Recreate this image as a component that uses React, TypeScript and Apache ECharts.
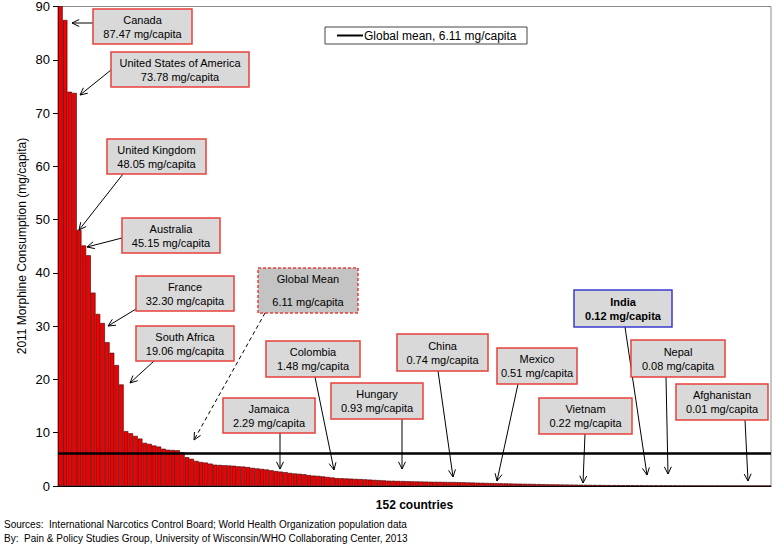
import React, { useEffect, useRef } from "react";
import * as echarts from "echarts";

// ---- Data ----
const COUNTRY_COUNT = 152;
const consumption: number[] = [
  134, 87.47, 74.0, 73.78, 48.05, 45.15, 43.3, 36.3, 32.3, 30.6,
  27.0, 25.0, 22.7, 19.06, 10.3, 9.9, 9.4, 8.9, 8.1, 7.9,
  7.6, 7.4, 7.0, 6.8, 6.75, 6.7, 6.3, 5.4, 5.1, 4.7,
  4.5, 4.4, 4.2, 4.0, 3.95, 3.9, 3.85, 3.8, 3.7, 3.65,
  3.55, 3.4, 3.3, 3.2, 3.1, 2.95, 2.8, 2.7, 2.6, 2.45,
  2.35, 2.29, 2.2, 2.05, 1.95, 1.9, 1.8, 1.7, 1.6, 1.48,
  1.45, 1.42, 1.38, 1.33, 1.3, 1.25, 1.2, 1.15, 1.1, 1.05,
  1.0, 0.98, 0.95, 0.93, 0.9, 0.88, 0.86, 0.84, 0.82, 0.8,
  0.79, 0.78, 0.76, 0.75, 0.74, 0.72, 0.7, 0.67, 0.65, 0.62,
  0.6, 0.57, 0.55, 0.53, 0.51, 0.49, 0.47, 0.45, 0.43, 0.42,
  0.4, 0.38, 0.36, 0.34, 0.32, 0.31, 0.3, 0.28, 0.27, 0.26,
  0.25, 0.23, 0.22, 0.21, 0.2, 0.19, 0.18, 0.17, 0.16, 0.16,
  0.15, 0.15, 0.14, 0.13, 0.13, 0.12, 0.11, 0.1, 0.1, 0.09,
  0.08, 0.08, 0.07, 0.06, 0.06, 0.05, 0.05, 0.04, 0.04, 0.03,
  0.03, 0.03, 0.02, 0.02, 0.02, 0.02, 0.01, 0.01, 0.01, 0.01,
  0.005, 0.003,
];
const categories: string[] = consumption.map((_, i) => String(i + 1));
const GLOBAL_MEAN = 6.11;
const yTicks = { min: 0, max: 90, interval: 10 };

const xAxisTitle = COUNTRY_COUNT + " countries";
const yAxisTitle = "2011 Morphine Consumption (mg/capita)";
const legendText = "Global mean, 6.11 mg/capita";
const sourceLines = [
  "Sources:  International Narcotics Control Board; World Health Organization population data",
  "By:  Pain & Policy Studies Group, University of Wisconsin/WHO Collaborating Center, 2013",
];

type Callout = {
  lines: string[];
  box: [number, number, number, number];
  from: [number, number];
  to: [number, number];
  kind?: "normal" | "india" | "mean";
};

const callouts: Callout[] = [
  { lines: ["Canada", "87.47 mg/capita"], box: [93, 9, 99, 35], from: [93, 23], to: [72, 23] },
  { lines: ["United States of America", "73.78 mg/capita"], box: [111, 52, 138, 35], from: [111, 70], to: [80, 95] },
  { lines: ["United Kingdom", "48.05 mg/capita"], box: [107, 139, 99, 35], from: [123, 174], to: [79, 230] },
  { lines: ["Australia", "45.15 mg/capita"], box: [122, 218, 98, 35], from: [122, 238], to: [87, 247] },
  { lines: ["France", "32.30 mg/capita"], box: [136, 276, 98, 35], from: [136, 309], to: [108, 326] },
  { lines: ["South Africa", "19.06 mg/capita"], box: [136, 326, 98, 35], from: [154, 361], to: [130, 383] },
  { lines: ["Global Mean", "6.11 mg/capita"], box: [258, 268, 100, 45], from: [265, 313], to: [194, 440], kind: "mean" },
  { lines: ["Jamaica", "2.29 mg/capita"], box: [223, 398, 92, 35], from: [280, 433], to: [280, 469] },
  { lines: ["Colombia", "1.48 mg/capita"], box: [266, 341, 94, 36], from: [315, 377], to: [334, 470] },
  { lines: ["Hungary", "0.93 mg/capita"], box: [331, 383, 92, 36], from: [402, 419], to: [402, 469] },
  { lines: ["China", "0.74 mg/capita"], box: [397, 334, 91, 37], from: [438, 371], to: [453, 477] },
  { lines: ["Mexico", "0.51 mg/capita"], box: [497, 348, 80, 36], from: [518, 384], to: [497, 481] },
  { lines: ["Vietnam", "0.22 mg/capita"], box: [539, 398, 93, 36], from: [585, 434], to: [583, 483] },
  { lines: ["India", "0.12 mg/capita"], box: [574, 290, 98, 37], from: [625, 327], to: [647, 475], kind: "india" },
  { lines: ["Nepal", "0.08 mg/capita"], box: [631, 340, 94, 37], from: [666, 377], to: [668, 474] },
  { lines: ["Afghanistan", "0.01 mg/capita"], box: [676, 384, 92, 36], from: [745, 420], to: [748, 481] },
];

const FONT = "Arial, 'Liberation Sans', sans-serif";

function arrowElements(from: [number, number], to: [number, number], dashed: boolean) {
  const [x1, y1] = from;
  const [x2, y2] = to;
  const a = Math.atan2(y2 - y1, x2 - x1);
  const L = 8;
  const t = 0.45;
  const p1 = [x2 - L * Math.cos(a - t), y2 - L * Math.sin(a - t)];
  const p2 = [x2 - L * Math.cos(a + t), y2 - L * Math.sin(a + t)];
  return [
    {
      type: "line",
      shape: { x1, y1, x2, y2 },
      style: { stroke: "#000", lineWidth: 1, lineDash: dashed ? [4, 3] : null },
      z: 100,
    },
    {
      type: "polyline",
      shape: { points: [p1, [x2, y2], p2] },
      style: { stroke: "#000", lineWidth: 1, fill: null },
      z: 100,
    },
  ];
}

function calloutElements(c: Callout) {
  const [x, y, w, h] = c.box;
  const kind = c.kind || "normal";
  const els: any[] = [];
  els.push({
    type: "rect",
    shape: { x, y, width: w, height: h },
    style: {
      fill: kind === "mean" ? "#c3c3c3" : "#d9d9d9",
      stroke: kind === "india" ? "#3a3ad0" : "#e8403c",
      lineWidth: 1.5,
      lineDash: kind === "mean" ? [3, 2] : null,
    },
    z: 101,
  });
  const lineGap = kind === "mean" ? 23 : 14;
  const firstY = kind === "mean" ? y + 11 : y + h / 2 - 7;
  c.lines.forEach((txt, i) => {
    els.push({
      type: "text",
      x: x + w / 2,
      y: firstY + i * lineGap,
      style: {
        text: txt,
        fill: "#000",
        font: (kind === "india" ? "bold " : "") + "11px " + FONT,
        align: "center",
        verticalAlign: "middle",
      },
      z: 102,
    });
  });
  return els;
}

export default function App() {
  const ref = useRef<HTMLDivElement>(null);
  useEffect(() => {
    if (!ref.current) return;
    const chart = echarts.init(ref.current, null, { renderer: "svg" });
    const graphics: any[] = [];
    callouts.forEach((c) => {
      graphics.push(...arrowElements(c.from, c.to, c.kind === "mean"));
      graphics.push(...calloutElements(c));
    });
    // legend box
    graphics.push({
      type: "rect",
      shape: { x: 325, y: 27, width: 202, height: 17 },
      style: { fill: "#fff", stroke: "#444", lineWidth: 1 },
      z: 100,
    });
    graphics.push({
      type: "line",
      shape: { x1: 337, y1: 35.5, x2: 363, y2: 35.5 },
      style: { stroke: "#000", lineWidth: 2 },
      z: 101,
    });
    graphics.push({
      type: "text",
      x: 364,
      y: 35.5,
      style: { text: legendText, fill: "#000", font: "12px " + FONT, align: "left", verticalAlign: "middle" },
      z: 101,
    });
    sourceLines.forEach((s, i) => {
      graphics.push({
        type: "text",
        x: 4,
        y: 524 + i * 14,
        style: { text: s, fill: "#000", font: "10px " + FONT, align: "left", verticalAlign: "middle" },
      });
    });
    graphics.push({
      type: "text",
      x: 22,
      y: 246,
      rotation: Math.PI / 2,
      style: { text: yAxisTitle, fill: "#000", font: "12px " + FONT, align: "center", verticalAlign: "middle" },
    });

    chart.setOption({
      animation: false,
      backgroundColor: "#fff",
      grid: {
        left: 58,
        top: 6,
        right: 4,
        bottom: 63,
        show: true,
        borderColor: "#8c8c8c",
        borderWidth: 1,
        backgroundColor: "transparent",
      },
      xAxis: {
        type: "category",
        data: categories,
        name: xAxisTitle,
        nameLocation: "middle",
        nameGap: 13,
        nameTextStyle: { fontFamily: FONT, fontSize: 12, fontWeight: "bold", color: "#000" },
        axisLine: { show: true, lineStyle: { color: "#000", width: 1 } },
        axisTick: { show: false },
        axisLabel: { show: false },
        splitLine: { show: false },
      },
      yAxis: {
        type: "value",
        min: yTicks.min,
        max: yTicks.max,
        interval: yTicks.interval,
        axisLine: { show: true, lineStyle: { color: "#000", width: 1 } },
        axisTick: { show: true, length: 5, lineStyle: { color: "#000" } },
        axisLabel: { fontFamily: FONT, fontSize: 13, color: "#000", margin: 8 },
        splitLine: { show: false },
      },
      series: [
        {
          type: "bar",
          data: consumption,
          clip: true,
          barCategoryGap: "0%",
          itemStyle: { color: "#f00000", borderColor: "#3a0000", borderWidth: 0.6 },
          silent: true,
          markLine: {
            silent: true,
            symbol: ["none", "none"],
            label: { show: false },
            lineStyle: { color: "#000", width: 2.5, type: "solid" },
            data: [{ yAxis: GLOBAL_MEAN }],
            z: 10,
          },
        },
      ],
      graphic: graphics,
    });
    return () => chart.dispose();
  }, []);
  return (
    <div
      ref={ref}
      style={{ position: "fixed", left: 0, top: 0, width: 775, height: 549, background: "#fff" }}
    />
  );
}
